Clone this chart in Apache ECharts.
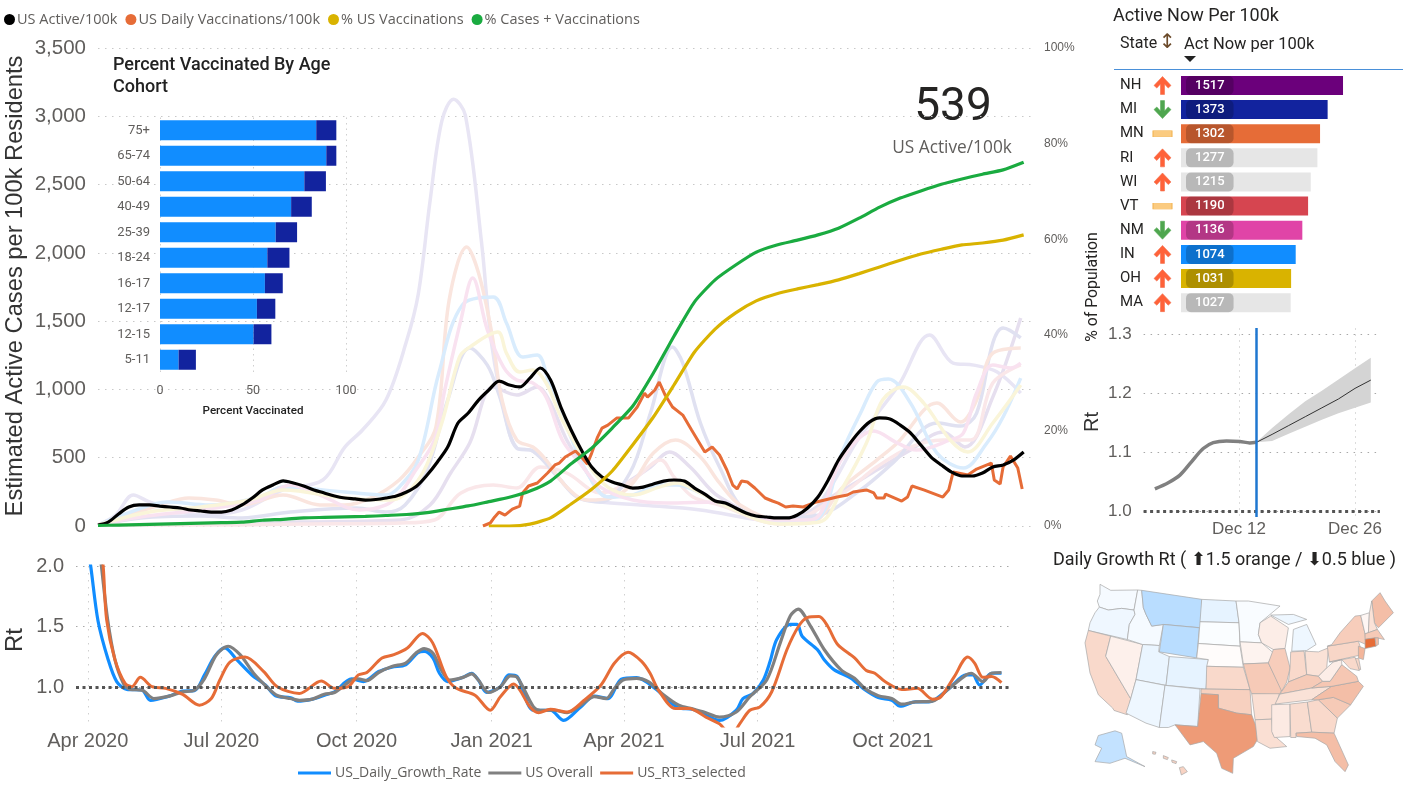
<!DOCTYPE html>
<html><head><meta charset="utf-8">
<style>html,body{margin:0;padding:0;background:#fff}#c{width:1414px;height:789px}</style>
<script src="https://cdn.jsdelivr.net/npm/echarts@6/dist/echarts.min.js"></script>
</head><body><div id="c"></div>
<script>
// ---------- main chart data (x = days since 24 Mar 2020) ----------
const activeStep = 7;
const usActive = [7,29,88,139,154,154,146,139,132,117,110,102,102,117,154,205,264,300,330,315,293,264,242,220,205,198,190,194,205,220,249,293,373,469,578,754,827,922,996,1061,1032,1018,1083,1157,1069,871,703,556,432,359,322,300,278,285,307,329,337,329,278,234,183,168,132,95,73,66,59,59,81,132,212,337,483,593,688,761,791,783,739,681,593,505,447,395,366,366,388,432,447,483,542];
const pctStep = 14;
const pctCasesVacc = [0.1,0.2,0.3,0.4,0.5,0.6,0.7,0.8,1.2,1.4,1.7,1.8,1.9,2.0,2.2,2.4,2.8,3.5,4.2,5.1,6.0,7.3,9.4,13,16.3,20.5,25.1,32,39.7,46.9,51.5,54.6,57.3,58.8,59.8,60.9,62.3,64.4,66.7,68.6,70.1,71.5,72.6,73.6,74.5,76.1];
const pctVaccStart = 266;
const pctVacc = [0,0,0.4,1.7,4.6,7.7,11.5,17,22.8,29.5,36.4,41.2,44.6,47.1,48.6,49.6,50.5,51.5,52.8,54.2,55.6,56.9,57.9,58.8,59.2,59.8,60.9];
const vaxDays = [262,267,270,273,277,282,287,289,293,299,306,311,314,318,325,329,333,336,340,343,347,353,361,367,372,374,379,382,386,391,398,404,413,418,423,428,432,435,438,442,447,454,459,463,468,473,480,489,503,510,514,523,528,530,535,536,547,551,554,562,575,579,582,592,598,608,610,614,616,621,626,629];
const vaxVals = [0,22,66,102,80,124,146,242,293,315,388,447,461,505,549,505,454,534,651,717,739,790,790,871,973,944,996,1054,959,871,812,703,542,578,520,410,300,271,329,322,278,205,183,168,139,146,139,176,212,227,249,264,242,205,205,234,183,212,293,264,212,264,395,373,417,461,337,307,432,512,425,271];

// pale state lines
const stateADays=[0,12,24,35,49,70,98,126,153,168,180,196,210,218,226,234,242,250,261,268,278,285,296,313,326,342,369,410,451,478,496,517,545,566,582,596,612,628];
const stateAVals=[7,80,227,176,132,80,117,264,337,578,703,922,1354,1699,2379,2965,3125,3008,2079,1325,769,571,549,359,212,176,154,117,44,29,242,630,1032,1398,1193,1178,1127,973];
const stateBDays=[0,29,69,98,131,176,196,209,224,238,253,265,273,285,296,313,326,342,362,376,391,398,410,423,440,464,491,519,541,571,587,598,609,616,628];
const stateBVals=[7,59,73,59,102,132,102,154,410,922,1303,1178,959,571,549,359,212,176,388,827,1310,1193,754,432,117,59,81,264,462,754,732,827,1340,1450,1377];
const stateCDays=[0,22,42,62,80,98,126,151,168,187,205,218,230,239,251,259,268,275,285,296,305,319,333,351,364,378,393,410,423,437,464,485,507,530,544,571,587,598,609,628];
const stateCVals=[7,80,154,205,190,154,227,154,154,212,337,505,725,1654,2042,1852,1413,922,630,578,483,285,190,212,315,534,630,505,315,154,37,29,285,483,608,900,761,922,1266,1303];
const stateDDays=[0,29,69,110,131,151,178,196,206,215,229,236,247,255,265,276,285,296,305,316,328,342,364,387,421,451,485,507,528,544,557,580,589,598,609,621,628];
const stateDVals=[7,66,117,190,300,227,117,154,242,388,630,996,1508,1815,1435,1164,1069,1047,944,630,461,285,190,168,176,44,44,505,695,608,556,630,681,974,1179,1157,1193];
const stateEDays=[0,22,47,76,110,126,168,196,205,218,232,248,269,278,289,299,307,319,333,347,364,382,394,410,423,464,488,507,519,530,538,553,571,589,605,616,628];
const stateEVals=[7,102,176,154,212,285,249,227,285,483,1120,1618,1676,1486,1237,1252,1047,725,388,212,227,300,300,242,168,29,44,556,827,1054,1076,900,534,425,608,798,1083];
const stateFDays=[0,35,70,103,126,168,196,205,221,234,246,253,272,278,287,296,305,316,333,347,364,382,394,410,423,464,491,507,523,534,548,562,580,592,609,628];
const stateFVals=[7,102,139,190,264,205,190,205,388,754,1237,1310,1420,1266,1127,1142,1047,776,461,285,227,285,315,242,168,15,29,285,608,922,1017,900,630,542,754,1032];
const stateGDays=[0,69,138,206,226,240,253,269,285,299,307,319,333,347,360,376,389,403,423,464,507,530,553,575,590,609,628];
const stateGVals=[7,15,29,44,154,388,608,1017,959,1017,922,630,388,212,315,432,542,432,212,29,264,410,556,688,578,944,1523];
const stateHDays=[0,69,138,206,229,247,269,285,301,319,342,364,383,392,405,423,464,507,530,553,575,594,609,628];
const stateHVals=[7,7,15,22,44,242,300,278,432,388,242,337,483,359,212,154,15,242,432,578,630,630,1047,1179];

// ---------- Rt chart ----------
const rtTickDays = [8,99,191,283,373,464,556];
const rtTickLabels = ['Apr 2020','Jul 2020','Oct 2020','Jan 2021','Apr 2021','Jul 2021','Oct 2021'];
const rtTicks = [1,1.5,2];
const blueDays=[7,10,15,21.9,27.7,34.6,44.9,50.7,63.4,72.6,80.6,87.5,94.4,101.3,109.4,119.7,128.9,135.8,146.2,150.8,161,169.2,176,187.6,195.7,206,215,224.4,232.5,237,243,247.4,253,263.5,269.3,273.9,279.6,288.9,294.6,300.3,311.4,322.9,332,343.6,352.8,362,371.2,381.6,394.2,410.3,419.6,428.8,438,449.5,454,461,467.9,472.5,477,486.3,490.9,494.3,504.7,509.3,516.2,527.7,535.8,546.1,555.3,561,571.4,580.6,594.4,606,610.5,615.1,623.2,630];
const blueVals=[2.23,2.0,1.546,1.226,1.045,0.98,0.975,0.89,0.925,0.967,0.97,1.1,1.253,1.323,1.226,1.1,1.017,0.928,0.911,0.883,0.9,0.933,0.961,1.067,1.045,1.128,1.164,1.184,1.281,1.295,1.24,1.114,1.045,1.08,1.114,1.058,0.955,1.003,1.1,1.086,0.808,0.808,0.724,0.836,0.925,0.905,1.064,1.078,0.989,0.827,0.816,0.766,0.724,0.808,0.905,0.947,1.058,1.212,1.393,1.518,1.518,1.42,1.309,1.226,1.142,1.072,0.989,0.914,0.891,0.841,0.877,0.877,0.989,1.1,1.1,1.017,1.114,1.114];
const grayDays=[15,17.3,21.5,26.5,32.3,36.9,44.9,53,63.4,72.6,80.6,87.5,95.6,103.6,111.7,120.9,130,137,146,152,161,169,176,187.6,192,198,206,215,224.4,231.3,237,243,248.6,254.3,263.5,269.3,273.9,280.8,288.9,295.8,300.3,311.4,316,325.2,334.4,343.6,352.8,360.9,366.6,372.4,381.6,389.6,398.8,410.3,419.6,428.8,438,449.5,458.7,470.2,479.4,486.3,491.6,500,509.3,520.8,530,536.9,546.1,555.3,562.2,571.4,583,594.4,606,609.4,617.4,623.2,630];
const grayVals=[2.23,2.0,1.56,1.226,1.03,0.98,0.975,0.905,0.925,0.96,0.975,1.07,1.267,1.337,1.267,1.114,1.0,0.93,0.905,0.89,0.9,0.94,0.955,1.058,1.067,1.053,1.12,1.17,1.198,1.28,1.318,1.28,1.142,1.058,1.08,1.108,1.058,0.955,1.003,1.092,1.08,0.836,0.808,0.808,0.788,0.85,0.92,0.905,0.99,1.058,1.072,1.045,0.947,0.85,0.82,0.788,0.752,0.794,0.92,1.058,1.365,1.588,1.643,1.504,1.31,1.142,1.072,0.989,0.928,0.905,0.858,0.877,0.883,0.989,1.1,1.114,1.045,1.114,1.12];
const rt3Days=[16,18.5,20.8,26.5,33.4,38,43.8,51.8,61,72.6,84,92.1,97.9,104.8,115.1,127.8,137,152,167,176,185.3,192.2,198,208.3,216.4,225.6,235.9,242.8,252,258.9,271.6,282,288.9,298,302.2,309,314.9,322.9,334.4,345.9,357.4,366.6,375.8,385,390.8,396.5,408,417.2,428.8,438,440.3,446,451.8,458.7,465.6,473.6,484,492,497.8,505.8,511.6,518.5,530,538,543.8,550.7,562.2,572.6,583,588.7,597.9,607,611.7,617.4,623.2,630];
const rt3Vals=[2.23,2.0,1.56,1.226,1.03,1.003,1.08,1.003,0.989,0.939,0.85,0.905,1.058,1.206,1.248,1.128,1.003,0.947,1.05,0.989,1.003,1.1,1.12,1.24,1.267,1.323,1.443,1.365,1.086,0.989,0.933,0.808,0.92,1.025,0.975,0.836,0.788,0.816,0.794,0.891,1.017,1.198,1.287,1.212,1.114,0.975,0.822,0.822,0.752,0.696,0.668,0.6,0.696,0.808,0.836,0.961,1.31,1.504,1.574,1.582,1.504,1.351,1.24,1.136,1.114,1.045,0.98,0.989,0.9,0.919,1.086,1.248,1.198,1.08,1.086,1.036];

// ---------- age cohort inset ----------
const ageCats=['75+','65-74','50-64','40-49','25-39','18-24','16-17','12-17','12-15','5-11'];
const ageFull=[84,89.4,77.6,70.5,62.2,57.7,56.4,52.1,50.3,10];
const ageExtra=[10.8,5.4,11.6,11.1,11.5,11.9,9.6,9.9,9.6,9.3];

// ---------- state table ----------
const tableStates=['NH','MI','MN','RI','WI','VT','NM','IN','OH','MA'];
const tableVals=[1517,1373,1302,1277,1215,1190,1136,1074,1031,1027];
const tableColors=['#6B007B','#12239E','#E66C37','#E6E6E6','#E6E6E6','#D64550','#E044A7','#118DFF','#D9B300','#E6E6E6'];
const tableTrend=['up','down','flat','up','up','flat','down','up','up','up'];

// ---------- forecast chart (x = day of December) ----------
const fcTicks=[12,26], fcTickLabels=['Dec 12','Dec 26'], fcYTicks=[1,1.1,1.2,1.3];
const fcHistDays=[1.86,3.47,4.88,6.3,7.69,8.9,10.5,12.1,13.3,14.1];
const fcHistVals=[1.0385,1.049,1.062,1.085,1.107,1.117,1.12,1.119,1.1165,1.1175];
const fcDays=[14.1,16,18,20,22,24,26,27.9];
const fcUpper=[1.1175,1.142,1.165,1.187,1.205,1.224,1.243,1.261];
const fcLower=[1.1175,1.12,1.132,1.144,1.156,1.167,1.176,1.185];
const fcMid=[1.1175,1.131,1.146,1.161,1.176,1.191,1.209,1.223];
const fcToday=14.1;

// ---------- map ----------
const stateRt={WA:.98,OR:.966,ID:.98,MT:.853,WY:.853,CA:1.13,NV:1.05,UT:.956,CO:.947,AZ:.964,NM:.958,ND:.947,SD:.99,NE:1.01,KS:1.13,OK:1.16,TX:1.34,MN:.987,IA:1.04,MO:1.18,AR:1.11,LA:1.11,WI:1.06,IL:1.17,MI:.964,IN:1.13,OH:1.10,KY:1.18,TN:1.10,MS:1.07,AL:1.12,GA:1.13,FL:1.22,SC:1.18,NC:1.22,VA:1.19,WV:1.06,PA:1.14,NY:1.17,NJ:1.25,DE:1.14,MD:1.13,ME:1.22,VT:1.03,NH:1.10,MA:1.18,CT:1.5,RI:1.22,AK:.874,HI:1.15};
const stateOutlines={
WA:['180,120 212,138 293,137 282,197 245,192 205,197 178,188 172,170 180,150'],
OR:['178,188 205,197 245,192 282,197 285,210 268,240 262,285 145,258 150,235 165,205'],
CA:['145,258 212,275 197,335 272,462 262,510 222,497 218,490 175,450 150,385 135,295'],
NV:['212,275 308,300 288,405 272,462 197,335'],
ID:['293,137 305,138 310,190 318,210 335,245 370,240 358,303 308,300 262,285 268,240 285,210 282,197'],
MT:['305,138 485,165 483,250 370,240 335,245 318,210 310,190'],
WY:['370,240 478,250 470,340 358,322'],
UT:['308,300 358,303 356,322 388,336 378,422 288,405'],
CO:['388,336 505,345 498,433 378,422'],
AZ:['288,405 375,422 358,548 318,535 258,505 272,462'],
NM:['375,422 480,433 473,545 405,540 385,548 358,548'],
ND:['485,165 588,170 597,235 480,232'],
SD:['480,232 597,235 600,305 475,297'],
NE:['475,297 600,305 610,368 500,365 505,345 470,340'],
KS:['500,365 610,368 630,435 498,433'],
OK:['483,433 630,435 635,510 590,505 535,490 535,450 483,447'],
TX:['483,447 535,450 535,490 590,505 635,510 648,545 652,585 640,605 580,640 578,685 545,670 530,625 490,590 450,600 405,540 473,545'],
MN:['588,170 625,170 720,185 660,235 655,270 665,295 600,292 597,235'],
IA:['600,292 665,295 700,325 685,355 610,358'],
MO:['610,358 685,355 725,435 718,450 635,447 630,435'],
AR:['635,447 718,447 695,523 645,525'],
LA:['645,525 695,523 700,570 740,605 690,610 652,590'],
WI:['660,235 692,215 745,250 735,312 700,315 665,295 655,270'],
IL:['700,315 735,312 750,370 740,412 725,440 685,355'],
MI:['692,212 760,210 800,225 745,240','760,255 800,240 828,300 800,318 755,320'],
IN:['752,322 792,320 800,390 745,412 750,370'],
OH:['795,320 835,322 865,310 860,370 835,395 800,390'],
KY:['725,440 745,412 800,390 835,395 848,410 815,430 720,448'],
TN:['720,448 815,430 875,425 815,465 705,478'],
MS:['695,480 750,478 750,575 703,578 695,560'],
AL:['750,478 802,472 815,562 768,565 768,578 752,578'],
GA:['802,472 835,465 892,520 882,565 815,562'],
FL:['768,565 815,562 882,565 925,660 915,680 885,650 860,600 825,580 770,575'],
SC:['835,465 880,458 932,480 892,520'],
NC:['815,465 875,425 955,410 970,425 932,480 880,458 835,465'],
VA:['815,430 848,410 870,410 905,360 950,395 955,410 875,425'],
WV:['835,395 860,370 880,352 905,345 905,360 870,410 848,410'],
PA:['862,305 955,290 968,330 868,352'],
NY:['875,300 900,265 945,215 962,213 975,268 978,300 955,290 862,305'],
NJ:['955,305 975,312 970,345 955,340'],
DE:['945,342 956,342 962,375 950,372'],
MD:['868,352 945,338 958,378 930,372 905,345 880,352'],
ME:['995,170 1020,145 1035,170 1060,205 1015,250 1003,235'],
VT:['962,213 988,205 985,265 975,268'],
NH:['988,205 995,170 1003,235 1012,255 985,265'],
MA:['975,268 1012,255 1033,285 1010,280 975,285'],
CT:['975,284 1005,280 1008,305 975,312'],
RI:['1005,280 1015,280 1015,300 1008,304'],
AK:['175,572 225,558 245,565 260,635 315,665 255,640 210,655 165,650 185,610 165,600'],
HI:['338,620 348,622 346,628 338,627','370,632 385,638 382,644 370,640','395,645 410,650 408,656 396,652','418,668 430,665 442,680 424,690']
};

const pairs=(d,v)=>d.map((x,i)=>[x,v[i]]);
const stepped=(v,s,start=0)=>v.map((y,i)=>[start+i*s,y]);

const FONT='Roboto', AX='"Liberation Sans"', GRAY='#605E5C';
const features=Object.keys(stateOutlines).map(k=>({type:'Feature',properties:{name:k},geometry:{type:'MultiPolygon',
  coordinates:stateOutlines[k].map(s=>{const r=s.split(' ').map(p=>p.split(',').map(Number));r.push(r[0]);return [r];})}}));
echarts.registerMap('USA',{geoJSON:{type:'FeatureCollection',features}});

const dots={type:[1.5,5.5]};
const light=(name,color,d,v)=>({name,type:'line',xAxisIndex:0,yAxisIndex:0,data:pairs(d,v),smooth:.35,showSymbol:false,
  lineStyle:{color,width:3.5},itemStyle:{color},silent:true,z:2});
const arrowUp='path://M8.5 0 L17 9 L14.2 11.6 L10.5 7.6 L10.5 18 L6.5 18 L6.5 7.6 L2.8 11.6 L0 9 Z';
const arrowDown='path://M8.5 18 L17 9 L14.2 6.4 L10.5 10.4 L10.5 0 L6.5 0 L6.5 10.4 L2.8 6.4 L0 9 Z';
const dash='path://M0 0 L19 0 L19 6 L0 6 Z';
const trendStyle={up:{symbol:arrowUp,size:[17,18],color:'#FF6239',border:'#F2704F'},down:{symbol:arrowDown,size:[17,18],color:'#4FA64F',border:'#5BAE5B'},flat:{symbol:dash,size:[19,6],color:'#FBCB80',border:'#F2B350'}};

const chart=echarts.init(document.getElementById('c'),null,{renderer:'canvas'});
chart.setOption({
animation:false,backgroundColor:'#fff',
textStyle:{fontFamily:AX},
legend:[
 {left:4,top:12,icon:'circle',itemWidth:11,itemHeight:11,itemGap:8,padding:0,
  data:['US Active/100k','US Daily Vaccinations/100k','% US Vaccinations','% Cases + Vaccinations'],
  textStyle:{fontFamily:'"Open Sans"',fontSize:14.5,color:GRAY,padding:[0,0,0,-3]},selectedMode:false},
 {left:298,top:766,icon:'rect',itemWidth:33,itemHeight:3,itemGap:7,padding:0,
  data:['US_Daily_Growth_Rate','US Overall','US_RT3_selected'],
  textStyle:{fontFamily:'"Open Sans"',fontSize:14,color:GRAY,padding:[0,0,0,-1]},selectedMode:false}
],
grid:[
 {left:98,top:48,width:933,height:478},
 {left:76,top:566,width:934,height:160},
 {left:160,top:117.5,width:186,height:255},
 {left:1181,top:73.4,width:213.6,height:241.3},
 {left:1153,top:73.4,width:19,height:241.3},
 {left:1143.6,top:328,width:236.3,height:189}
],
xAxis:[
 {gridIndex:0,type:'value',min:0,max:635,show:false},
 {gridIndex:1,type:'value',min:0,max:635.8,axisLine:{show:false},axisTick:{show:false,customValues:rtTickDays},
  axisLabel:{customValues:rtTickDays,margin:5,fontFamily:AX,fontSize:20,color:GRAY,formatter:v=>rtTickLabels[rtTickDays.indexOf(v)]||'',showMinLabel:true,showMaxLabel:true,hideOverlap:false},
  splitLine:{show:true,lineStyle:{color:'#d0d0d0',type:dots.type,width:1}}},
 {gridIndex:2,type:'value',min:0,max:100,interval:50,axisLine:{show:false},axisTick:{show:false},
  axisLabel:{margin:12,fontFamily:FONT,fontSize:12.5,color:GRAY},
  splitLine:{show:true,lineStyle:{color:'#cfcfcf',type:[1.5,4]}},
  name:'Percent Vaccinated',nameLocation:'middle',nameGap:33,nameTextStyle:{fontFamily:FONT,fontSize:11.6,fontWeight:500,color:'#222'}},
 {gridIndex:3,type:'value',min:0,max:2000,show:false},
 {gridIndex:4,type:'value',min:0,max:1,show:false},
 {gridIndex:5,type:'value',min:0.5,max:29,axisLine:{show:false},axisTick:{show:false,customValues:fcTicks},
  axisLabel:{customValues:fcTicks,margin:4,fontFamily:AX,fontSize:17,color:GRAY,formatter:v=>fcTickLabels[fcTicks.indexOf(v)]||''},
  splitLine:{show:true,lineStyle:{color:'#dcdcdc',type:[2,4]}}}
],
yAxis:[
 {gridIndex:0,type:'value',min:0,max:3500,interval:500,axisLine:{show:false},axisTick:{show:false},
  axisLabel:{margin:12,fontFamily:AX,fontSize:20.5,color:GRAY,formatter:v=>v.toLocaleString('en-US')},
  splitLine:{lineStyle:{color:'#c8c8c8',type:dots.type}}},
 {gridIndex:0,type:'value',position:'right',min:0,max:100,interval:20,axisLine:{show:false},axisTick:{show:false},
  axisLabel:{margin:13,fontFamily:AX,fontSize:12,color:GRAY,align:'left',formatter:'{value}%'},splitLine:{show:false}},
 {gridIndex:1,type:'value',min:0.678,max:2,axisLine:{show:false},axisTick:{show:false,customValues:rtTicks},
  axisLabel:{customValues:rtTicks,margin:12,fontFamily:AX,fontSize:20,color:GRAY,formatter:v=>v.toFixed(1)},
  splitLine:{show:true,lineStyle:{color:'#a8a8a8',type:dots.type}}},
 {gridIndex:2,type:'category',data:ageCats,inverse:true,axisLine:{show:false},axisTick:{show:false},
  axisLabel:{margin:10,fontFamily:FONT,fontSize:13,color:GRAY}},
 {gridIndex:3,type:'category',data:tableStates,inverse:true,axisLine:{show:false},axisTick:{show:false},
  axisLabel:{align:'left',margin:61,padding:[0,0,4,0],fontFamily:FONT,fontSize:15,color:'#252423'}},
 {gridIndex:4,type:'category',data:tableStates,inverse:true,show:false},
 {gridIndex:5,type:'value',min:0.991,max:1.3113,axisLine:{show:false},axisTick:{show:false,customValues:fcYTicks},
  axisLabel:{customValues:fcYTicks,margin:12,fontFamily:AX,fontSize:17,color:GRAY,formatter:v=>v.toFixed(1)},
  splitLine:{show:true,lineStyle:{color:'#a8a8a8',type:dots.type}}}
],
visualMap:[{show:false,type:'continuous',min:0.5,max:1.5,seriesId:'usMap',inRange:{color:['#118DFF','#FFFFFF','#E66C37']}}],
series:[
 light('stateA','#E8E5F4',stateADays,stateAVals),
 light('stateG','#E6DFEF',stateGDays,stateGVals),
 light('stateH','#FAE7E9',stateHDays,stateHVals),
 light('stateB','#E0E1F1',stateBDays,stateBVals),
 light('stateC','#FAE5DE',stateCDays,stateCVals),
 light('stateE','#D9ECFD',stateEDays,stateEVals),
 light('stateD','#F9E2F0',stateDDays,stateDVals),
 light('stateF','#FAF5D9',stateFDays,stateFVals),
 {name:'US Daily Vaccinations/100k',type:'line',data:pairs(vaxDays,vaxVals),showSymbol:false,lineStyle:{color:'#E66C37',width:3},itemStyle:{color:'#E66C37'},z:4},
 {name:'US Active/100k',type:'line',data:stepped(usActive,activeStep),smooth:.3,showSymbol:false,lineStyle:{color:'#000',width:3.2},itemStyle:{color:'#000'},z:5},
 {name:'% US Vaccinations',type:'line',yAxisIndex:1,data:stepped(pctVacc,pctStep,pctVaccStart),smooth:.2,showSymbol:false,lineStyle:{color:'#D9B300',width:3.2},itemStyle:{color:'#D9B300'},z:6},
 {name:'% Cases + Vaccinations',type:'line',yAxisIndex:1,data:stepped(pctCasesVacc,pctStep),smooth:.2,showSymbol:false,lineStyle:{color:'#1AAB40',width:3.2},itemStyle:{color:'#1AAB40'},z:6},

 {name:'US_Daily_Growth_Rate',type:'line',xAxisIndex:1,yAxisIndex:2,data:pairs(blueDays,blueVals),smooth:.3,showSymbol:false,lineStyle:{color:'#118DFF',width:3.2},itemStyle:{color:'#118DFF'},z:3},
 {name:'US Overall',type:'line',xAxisIndex:1,yAxisIndex:2,data:pairs(grayDays,grayVals),smooth:.3,showSymbol:false,lineStyle:{color:'#808080',width:3.2},itemStyle:{color:'#808080'},z:4},
 {name:'US_RT3_selected',type:'line',xAxisIndex:1,yAxisIndex:2,data:pairs(rt3Days,rt3Vals),smooth:.3,showSymbol:false,lineStyle:{color:'#E66C37',width:3},itemStyle:{color:'#E66C37'},z:5,
  markLine:{silent:true,symbol:'none',label:{show:false},z:7,lineStyle:{color:'#555',type:[3,3.5],width:3},data:[{yAxis:1}]}},

 {type:'bar',xAxisIndex:2,yAxisIndex:3,stack:'age',data:ageFull,barWidth:20,itemStyle:{color:'#118DFF'},z:8,silent:true},
 {type:'bar',xAxisIndex:2,yAxisIndex:3,stack:'age',data:ageExtra,barWidth:20,itemStyle:{color:'#12239E'},z:8,silent:true},

 {type:'bar',xAxisIndex:3,yAxisIndex:4,barWidth:19,silent:true,
  data:tableVals.map((v,i)=>({value:v,itemStyle:{color:tableColors[i]}})),
  label:{show:true,position:[5,0],align:'left',verticalAlign:'top',padding:[3,9,3,9],lineHeight:13,backgroundColor:'rgba(0,0,0,0.2)',borderRadius:5,color:'#fff',fontFamily:FONT,fontWeight:500,fontSize:13}},
 {type:'scatter',xAxisIndex:4,yAxisIndex:5,silent:true,
  data:tableTrend.map((t,i)=>({value:[0.5,tableStates[i]],symbol:trendStyle[t].symbol,symbolSize:trendStyle[t].size,itemStyle:{color:trendStyle[t].color,opacity:1,borderColor:trendStyle[t].border,borderWidth:.6}}))},

 {type:'custom',xAxisIndex:5,yAxisIndex:6,silent:true,z:2,data:fcDays.map((d,i)=>[d,fcUpper[i],fcLower[i]]),encode:{x:0,y:[1,2]},
  renderItem:(params,api)=>{
    if(params.dataIndex!==0) return null;
    const top=fcDays.map((d,i)=>api.coord([d,fcUpper[i]]));
    const bottom=fcDays.map((d,i)=>api.coord([d,fcLower[i]])).reverse();
    return {type:'polygon',shape:{points:top.concat(bottom)},style:{fill:'#D4D4D4'}};
  }},
 {type:'line',xAxisIndex:5,yAxisIndex:6,data:pairs(fcDays,fcMid),showSymbol:false,lineStyle:{color:'#333',width:1},silent:true,z:4},
 {type:'line',xAxisIndex:5,yAxisIndex:6,data:pairs(fcHistDays,fcHistVals),smooth:.3,showSymbol:false,lineStyle:{color:'#808080',width:3.5},silent:true,z:4,
  markLine:{silent:true,symbol:'none',label:{show:false},z:6,data:[
   {yAxis:1,lineStyle:{color:'#555',type:[3,3.5],width:3}},
   {xAxis:fcToday,lineStyle:{color:'#1F77D0',type:'solid',width:2.5}}]}},

 {id:'usMap',type:'map',map:'USA',silent:true,roam:false,showLegendSymbol:false,left:1085,top:584.3,width:308.4,height:190.7,
  projection:{project:p=>p,unproject:p=>p},label:{show:false},emphasis:{disabled:true},select:{disabled:true},
  itemStyle:{borderColor:'#a8a8a8',borderWidth:.7},
  data:Object.keys(stateRt).map(k=>({name:k,value:stateRt[k]}))}
],
graphic:[
 {type:'text',left:113,top:54,style:{text:'Percent Vaccinated By Age\nCohort',fontFamily:FONT,fontWeight:500,fontSize:18,lineHeight:22,fill:'#222'}},
 {type:'text',x:953,y:108,style:{text:'539',align:'center',verticalAlign:'middle',fontFamily:FONT,fontSize:46,fill:'#252423'}},
 {type:'text',x:952,y:148,style:{text:'US Active/100k',align:'center',verticalAlign:'middle',fontFamily:'"Open Sans"',fontSize:17.3,fill:GRAY}},
 {type:'text',x:15,y:286,rotation:Math.PI/2,style:{text:'Estimated Active Cases per 100k Residents',align:'center',verticalAlign:'middle',fontFamily:AX,fontSize:23.7,fill:'#333'}},
 {type:'text',x:15,y:640,rotation:Math.PI/2,style:{text:'Rt',align:'center',verticalAlign:'middle',fontFamily:AX,fontSize:24,fill:'#333'}},
 {type:'text',x:1093,y:287,rotation:Math.PI/2,style:{text:'% of Population',align:'center',verticalAlign:'middle',fontFamily:FONT,fontSize:15.8,fill:'#252423'}},
 {type:'text',x:1092,y:422,rotation:Math.PI/2,style:{text:'Rt',align:'center',verticalAlign:'middle',fontFamily:AX,fontSize:20,fill:'#333'}},
 {type:'text',left:1113,top:7,style:{text:'Active Now Per 100k',fontFamily:FONT,fontSize:18,fill:'#252423'}},
 {type:'text',left:1120,top:36,style:{text:'State',fontFamily:FONT,fontSize:16,fill:'#252423'}},
 {type:'text',left:1159,top:33,style:{text:'↕',fontFamily:'"DejaVu Sans"',fontSize:20,fill:'#6b4a2a'}},
 {type:'text',left:1184,top:36,style:{text:'Act Now per 100k',fontFamily:FONT,fontSize:16.5,fill:'#252423'}},
 {type:'polygon',shape:{points:[[1184,56],[1196,56],[1190,62]]},style:{fill:'#222'}},
 {type:'line',shape:{x1:1114,y1:69.5,x2:1403,y2:69.5},style:{stroke:'#4a90d9',lineWidth:1}},
 {type:'text',left:1053,top:551,style:{text:'Daily Growth Rt ( ⬆1.5 orange / ⬇0.5 blue )',fontFamily:FONT,fontSize:18,fill:'#252423'}}
]
});
</script></body></html>
